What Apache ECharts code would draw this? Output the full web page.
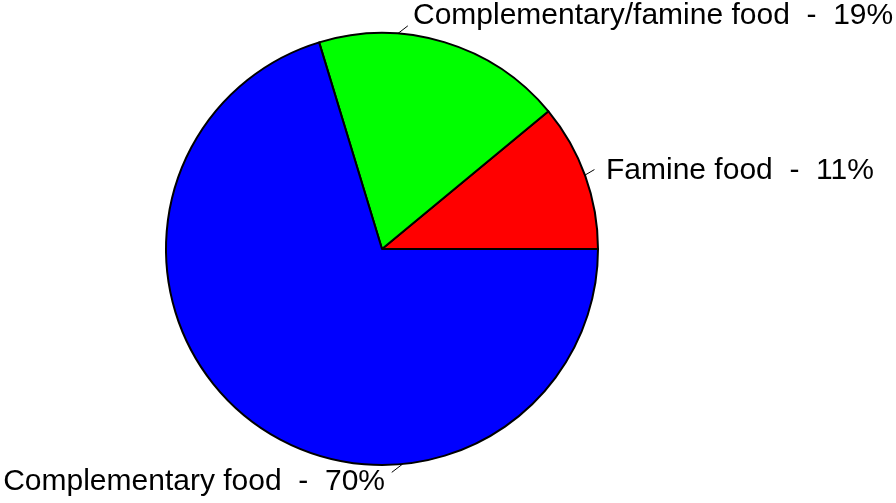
<!DOCTYPE html>
<html>
<head>
<meta charset="utf-8">
<script src="https://cdn.jsdelivr.net/npm/echarts@6/dist/echarts.min.js"></script>
<style>
html,body{margin:0;padding:0;background:#fff;}
#chart{width:896px;height:503px;}
</style>
</head>
<body>
<div id="chart"></div>
<script>
var categories = ['Famine food', 'Complementary/famine food', 'Complementary food'];
var values = [11, 18.7, 70.3];
var sliceColors = ['#FF0000', '#00FF00', '#0000FF'];

var CX = 382, CY = 249, R = 216;
function polar(angDeg, r) {
  var a = angDeg * Math.PI / 180;
  return [CX + r * Math.cos(a), CY - r * Math.sin(a)];
}
var labelSpecs = [
  {a1: 20, a2: 20.5, f: 1.05, tx: 606, ty: 171, align: 'left'},
  {a1: 85.8, a2: 83.4, f: 1.04, tx: 413, ty: 16, align: 'left'},
  {a1: 275.5, a2: 272.5, f: 1.035, tx: 385, ty: 482, align: 'right'}
];

var chart = echarts.init(document.getElementById('chart'), null, {renderer: 'canvas'});
var data = categories.map(function (c, i) {
  return {name: c, value: values[i], itemStyle: {color: sliceColors[i]}};
});
chart.setOption({
  animation: false,
  backgroundColor: '#ffffff',
  series: [{
    type: 'pie',
    center: [CX, CY],
    radius: [0, R],
    startAngle: 0,
    clockwise: false,
    avoidLabelOverlap: false,
    data: data,
    itemStyle: {borderColor: '#000000', borderWidth: 2},
    emphasis: {disabled: true},
    label: {
      show: true,
      position: 'outside',
      overflow: 'none',
      width: 600,
      fontFamily: '"Liberation Sans", Arial, sans-serif',
      fontSize: 30,
      color: '#000000',
      formatter: function (p) {
        return p.name + '  -  ' + Math.round(p.value) + '%';
      }
    },
    labelLine: {show: true, length: 5, length2: 0, lineStyle: {color: '#000000', width: 1}},
    labelLayout: function (params) {
      var s = labelSpecs[params.dataIndex];
      var p1 = polar(s.a1, R);
      var p2 = polar(s.a2, R * s.f);
      return {
        x: s.tx,
        y: s.ty,
        align: s.align,
        verticalAlign: 'middle',
        labelLinePoints: [p1, p2, p2]
      };
    }
  }]
});
</script>
</body>
</html>
